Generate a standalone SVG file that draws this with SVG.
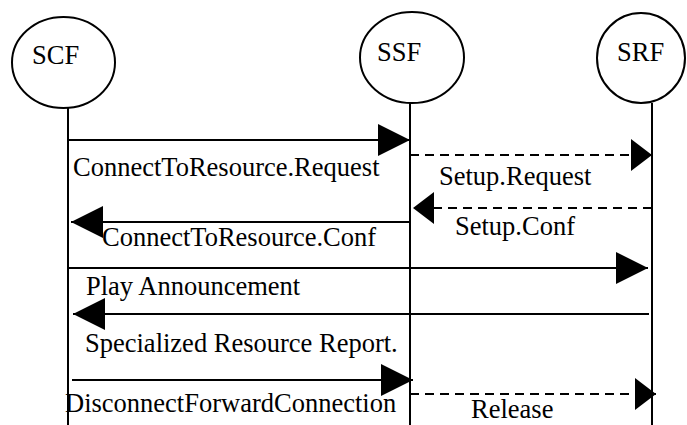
<svg xmlns="http://www.w3.org/2000/svg" width="687" height="425" viewBox="0 0 687 425">
<style>
.bg{fill:#fff}
.node{fill:none;stroke:#000;stroke-width:2}
.life{stroke:#000;stroke-width:2;fill:none}
.msg{stroke:#000;stroke-width:2;fill:none;marker-end:url(#head)}
.dash{stroke:#000;stroke-width:2;fill:none;stroke-dasharray:9 6;marker-end:url(#headd)}
text{font-family:"Liberation Serif","Times New Roman",serif;font-size:26.5px;fill:#000}
</style>
<defs>
<marker id="head" markerUnits="userSpaceOnUse" markerWidth="33" markerHeight="33" refX="32" refY="16" orient="auto" viewBox="0 0 33 33">
<path d="M0,0 L32,16 L0,32 Z" fill="#000"/>
</marker>
<marker id="headd" markerUnits="userSpaceOnUse" markerWidth="22" markerHeight="33" refX="21" refY="16" orient="auto" viewBox="0 0 22 33">
<path d="M0,0 L21,16 L0,32 Z" fill="#000"/>
</marker>
</defs>
<rect class="bg" x="0" y="0" width="687" height="425"/>
<g id="SCF">
<ellipse class="node" cx="63.5" cy="62.5" rx="51.5" ry="45.5"/>
<text x="32" y="64">SCF</text>
<line class="life" x1="68" y1="108" x2="68" y2="425"/>
</g>
<g id="SSF">
<ellipse class="node" cx="412" cy="57.5" rx="52" ry="45.5"/>
<text x="377" y="61">SSF</text>
<line class="life" x1="410" y1="103" x2="410" y2="425"/>
</g>
<g id="SRF">
<ellipse class="node" cx="641" cy="58" rx="44" ry="45"/>
<text x="617" y="61">SRF</text>
<line class="life" x1="652" y1="103" x2="652" y2="425"/>
</g>
<g id="connectors">
<path class="msg" d="M68,140 L410,140"/>
<path class="dash" d="M410,155 L652,155"/>
<path class="dash" d="M652,208 L413,208"/>
<path class="msg" d="M409,222 L71,222"/>
<path class="msg" d="M68,268 L648,268"/>
<path class="msg" d="M649,314 L73,314"/>
<path class="msg" d="M72,380 L413,380"/>
<path class="dash" d="M410,394 L656,394"/>
</g>
<g id="labels">
<text x="73" y="176">ConnectToResource.Request</text>
<text x="439" y="185">Setup.Request</text>
<text x="455" y="235">Setup.Conf</text>
<text x="102" y="246">ConnectToResource.Conf</text>
<text x="86" y="295">Play Announcement</text>
<text x="85" y="352">Specialized Resource Report.</text>
<text x="65" y="412">DisconnectForwardConnection</text>
<text x="471" y="418">Release</text>
</g>
</svg>
